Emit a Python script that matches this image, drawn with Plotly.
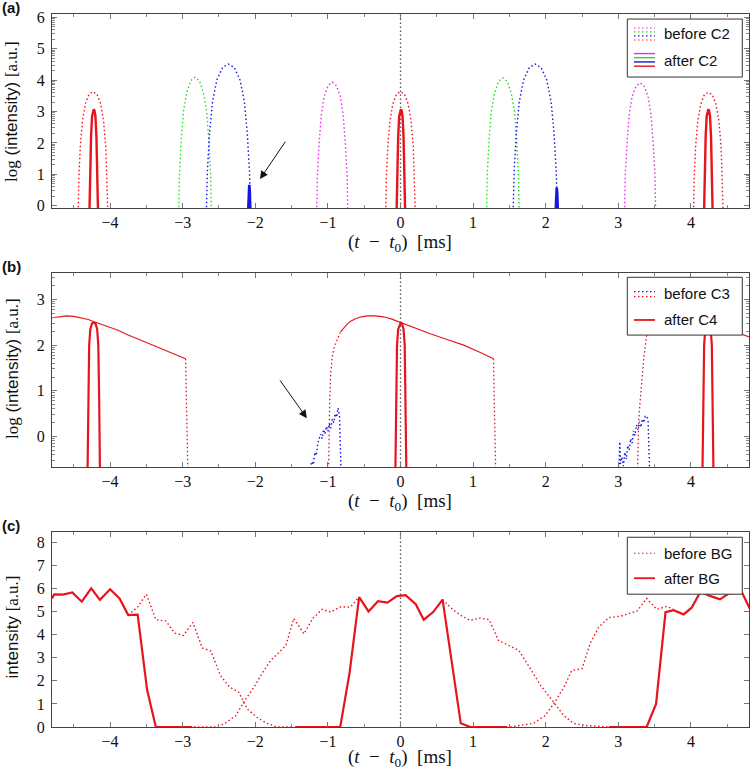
import numpy as np
import plotly.graph_objects as go

# ---------------- Panel (a) data ----------------
a_red_dot_x = [-4.44, -4.43, -4.41, -4.38, -4.34, -4.29, -4.235, -4.18, -4.13, -4.09, -4.06, -4.04, -4.03, None,
               -0.205, -0.195, -0.175, -0.145, -0.105, -0.055, 0.0, 0.055, 0.105, 0.145, 0.175, 0.195, 0.205, None,
               4.035, 4.045, 4.065, 4.095, 4.135, 4.185, 4.24, 4.295, 4.345, 4.385, 4.415, 4.435, 4.445]
a_red_dot_y = [-0.3, 0.9, 1.9, 2.7, 3.25, 3.55, 3.63, 3.55, 3.25, 2.7, 1.9, 0.9, -0.3, None,
               -0.3, 0.9, 1.9, 2.7, 3.25, 3.55, 3.63, 3.55, 3.25, 2.7, 1.9, 0.9, -0.3, None,
               -0.3, 0.9, 1.9, 2.7, 3.23, 3.53, 3.61, 3.53, 3.23, 2.7, 1.9, 0.9, -0.3]
a_green_dot_x = [-3.055, -3.045, -3.02, -2.99, -2.945, -2.89, -2.83, -2.77, -2.715, -2.67, -2.64, -2.615, -2.605, None,
                 1.185, 1.195, 1.22, 1.25, 1.295, 1.35, 1.41, 1.47, 1.525, 1.57, 1.60, 1.625, 1.635]
a_green_dot_y = [-0.3, 1.0, 2.1, 3.0, 3.6, 3.98, 4.09, 3.98, 3.6, 3.0, 2.1, 1.0, -0.3, None,
                 -0.3, 1.0, 2.1, 3.0, 3.58, 3.96, 4.07, 3.96, 3.58, 3.0, 2.1, 1.0, -0.3]
a_blue_dot_x = [-2.675, -2.66, -2.63, -2.59, -2.53, -2.45, -2.37, -2.29, -2.21, -2.15, -2.11, -2.08, -2.065, None,
                1.55, 1.565, 1.595, 1.635, 1.695, 1.775, 1.855, 1.935, 2.015, 2.075, 2.115, 2.145, 2.16]
a_blue_dot_y = [-0.3, 1.1, 2.3, 3.3, 4.0, 4.4, 4.51, 4.4, 4.0, 3.3, 2.3, 1.1, -0.3, None,
                -0.3, 1.1, 2.3, 3.3, 4.0, 4.4, 4.51, 4.4, 4.0, 3.3, 2.3, 1.1, -0.3]
a_mag_dot_x = [-1.155, -1.145, -1.12, -1.09, -1.05, -0.995, -0.94, -0.885, -0.83, -0.79, -0.76, -0.735, -0.725, None,
               3.085, 3.095, 3.12, 3.15, 3.19, 3.245, 3.30, 3.355, 3.41, 3.45, 3.48, 3.505, 3.515]
a_mag_dot_y = [-0.3, 0.95, 2.0, 2.9, 3.5, 3.83, 3.93, 3.83, 3.5, 2.9, 2.0, 0.95, -0.3, None,
               -0.3, 0.95, 2.0, 2.9, 3.48, 3.81, 3.91, 3.81, 3.48, 2.9, 2.0, 0.95, -0.3]
a_red_sol_x = [-4.285, -4.275, -4.262, -4.248, -4.235, -4.225, -4.215, -4.202, -4.188, -4.175, -4.165, None,
               -0.055, -0.045, -0.032, -0.018, -0.005, 0.005, 0.015, 0.028, 0.042, 0.055, 0.065, None,
               4.18, 4.19, 4.203, 4.217, 4.23, 4.24, 4.25, 4.263, 4.277, 4.29, 4.30]
a_red_sol_y = [-0.3, 1.0, 2.2, 2.85, 3.03, 3.07, 3.03, 2.85, 2.2, 1.0, -0.3, None,
               -0.3, 1.0, 2.2, 2.85, 3.03, 3.07, 3.03, 2.85, 2.2, 1.0, -0.3, None,
               -0.3, 1.0, 2.2, 2.85, 3.03, 3.07, 3.03, 2.85, 2.2, 1.0, -0.3]
a_blue_sol_x = [-2.10, -2.09, -2.083, -2.076, -2.066, None, 2.135, 2.145, 2.152, 2.159, 2.169]
a_blue_sol_y = [-0.3, 0.45, 0.67, 0.45, -0.3, None, -0.3, 0.40, 0.58, 0.40, -0.3]

# ---------------- Panel (b) data ----------------
b_red_line_x = [-4.80, -4.70, -4.60, -4.50, -4.40, -4.30, -4.23, -4.10, -3.90, -3.75, -3.60, -3.45, -3.30, -3.15, -2.96, None,
                -0.825, -0.78, -0.73, -0.68, -0.62, -0.54, -0.46, -0.35, -0.23, -0.12, -0.02, 0.15, 0.41, 0.65, 0.87, 1.10, 1.28, None,
                3.42, 3.50, 3.60, 3.75, 3.90, 4.05, 4.23, 4.40, 4.55, 4.72, 4.80]
b_red_line_y = [2.60, 2.62, 2.64, 2.63, 2.60, 2.56, 2.52, 2.45, 2.33, 2.22, 2.12, 2.02, 1.91, 1.81, 1.70, None,
                2.29, 2.38, 2.47, 2.53, 2.58, 2.62, 2.64, 2.64, 2.62, 2.57, 2.51, 2.40, 2.25, 2.12, 2.00, 1.84, 1.70, None,
                2.32, 2.42, 2.52, 2.60, 2.63, 2.60, 2.52, 2.42, 2.32, 2.23, 2.18]
b_red_dot_x = [-2.96, -2.955, -2.95, -2.94, -2.93, None,
               -0.99, -0.985, -0.975, -0.96, -0.94, -0.91, -0.88, -0.85, -0.825, None,
               1.28, 1.285, 1.29, 1.30, 1.31, None,
               3.265, 3.27, 3.28, 3.29, 3.31, 3.32, 3.35, 3.39, 3.42]
b_red_dot_y = [1.70, 1.2, 0.6, 0.0, -0.7, None,
               -0.7, 0.0, 0.8, 1.4, 1.75, 1.98, 2.10, 2.20, 2.29, None,
               1.70, 1.2, 0.6, 0.0, -0.7, None,
               -0.7, -0.2, 0.3, 0.57, 1.0, 1.23, 1.70, 2.21, 2.32]
b_blue_dot_x = [-1.25, -1.22, -1.20, -1.18, -1.16, -1.14, -1.12, -1.10, -1.08, -1.06, -1.04, -1.02, -1.00, -0.98,
                -0.96, -0.94, -0.92, -0.90, -0.88, -0.86, -0.84, -0.83, -0.82, None,
                3.01, 3.02, 3.03, 3.05, 3.07, 3.09, 3.11, 3.13, 3.15, 3.17, 3.19, 3.21, 3.23, 3.25, 3.27, 3.29,
                3.31, 3.33, 3.35, 3.37, 3.39, 3.41, 3.42, 3.43]
b_blue_dot_y = [-0.7, -0.55, -0.62, -0.35, -0.42, -0.15, -0.05, 0.05, -0.05, 0.15, 0.05, 0.22, 0.12, 0.28,
                0.18, 0.38, 0.30, 0.50, 0.42, 0.62, 0.45, -0.2, -0.7, None,
                -0.7, -0.12, -0.6, -0.45, -0.65, -0.35, -0.5, -0.2, -0.3, -0.05, -0.15, 0.12, 0.02, 0.25, 0.15, 0.32,
                0.20, 0.38, 0.30, 0.44, 0.45, 0.35, -0.2, -0.7]
b_red_sol_x = [-4.31, -4.30, -4.288, -4.272, -4.25, -4.225, -4.20, -4.178, -4.162, -4.15, -4.14, None,
               -0.07, -0.06, -0.048, -0.032, -0.01, 0.005, 0.02, 0.042, 0.058, 0.07, 0.08, None,
               4.16, 4.17, 4.182, 4.198, 4.22, 4.235, 4.25, 4.272, 4.288, 4.30, 4.31]
b_red_sol_y = [-0.7, 0.8, 2.0, 2.35, 2.47, 2.50, 2.47, 2.35, 2.0, 0.8, -0.7, None,
               -0.7, 0.8, 2.0, 2.35, 2.47, 2.50, 2.47, 2.35, 2.0, 0.8, -0.7, None,
               -0.7, 0.8, 2.0, 2.35, 2.47, 2.50, 2.47, 2.35, 2.0, 0.8, -0.7]

# ---------------- Panel (c) data ----------------
c_after_x = [-4.80, -4.77, -4.65, -4.52, -4.39, -4.26, -4.14, -4.00, -3.87, -3.75, -3.62, -3.49, -3.37, -2.87, None,
             -1.45, -0.83, -0.70, -0.57, -0.44, -0.31, -0.18, -0.05, 0.07, 0.21, 0.32, 0.45, 0.58, 0.83, 0.96, 1.47, None,
             2.87, 3.39, 3.52, 3.65, 3.76, 3.90, 4.01, 4.13, 4.26, 4.40, 4.52, 4.70, 4.81]
c_after_y = [5.57, 5.75, 5.74, 5.83, 5.43, 6.01, 5.51, 5.97, 5.57, 4.85, 4.87, 1.61, 0.0, 0.0, None,
             0.0, 0.0, 2.38, 5.63, 5.01, 5.45, 5.39, 5.67, 5.71, 5.32, 4.65, 4.98, 5.52, 0.16, 0.0, 0.0, None,
             0.0, 0.0, 1.00, 4.98, 5.06, 4.88, 5.17, 5.85, 5.68, 5.53, 5.78, 5.85, 5.13]
c_before_x = [-3.75, -3.62, -3.50, -3.37, -3.23, -3.11, -2.99, -2.86, -2.73, -2.61, -2.48, -2.36, -2.23, -2.11,
              -1.98, -1.84, -1.70, -1.50, None,
              -2.90, -2.55, -2.43, -2.27, -2.13, -2.02, -1.91, -1.79, -1.67, -1.58, -1.47, -1.33, -1.21, -1.08,
              -0.96, -0.83, -0.69, -0.57, None,
              0.58, 0.73, 0.85, 0.96, 1.10, 1.22, 1.35, 1.49, 1.63, 1.79, 1.93, 2.11, 2.25, 2.38, 2.57, 2.87, None,
              1.51, 1.65, 1.83, 1.99, 2.11, 2.25, 2.36, 2.50, 2.61, 2.73, 2.87, 3.03, 3.26, 3.39, 3.53, 3.67, 3.78]
c_before_y = [4.85, 5.20, 5.75, 4.65, 4.59, 4.07, 3.97, 4.53, 3.43, 3.29, 2.23, 1.75, 1.51, 0.78,
              0.42, 0.16, 0.0, 0.0, None,
              0.0, 0.0, 0.13, 0.49, 1.22, 1.72, 2.30, 2.88, 3.24, 3.53, 4.70, 4.04, 4.70, 5.10,
              4.98, 5.20, 5.20, 5.63, None,
              5.52, 5.06, 4.80, 4.62, 4.72, 4.65, 3.75, 3.53, 3.32, 2.52, 1.80, 1.07, 0.49, 0.16, 0.06, 0.0, None,
              0.0, 0.06, 0.16, 0.49, 1.00, 1.72, 2.45, 2.52, 3.61, 4.33, 4.74, 4.80, 5.03, 5.57, 5.10, 5.23, 5.06]

x_tick_vals = [-4, -3, -2, -1, 0, 1, 2, 3, 4]
legend_a = ["before C2", "after C2"]
legend_b = ["before C3", "after C4"]
legend_c = ["before BG", "after BG"]
panel_labels = ["(a)", "(b)", "(c)"]

RED = "#e8141c"
GREEN = "#22dd22"
BLUE = "#1515e0"
MAG = "#e030e0"
DOT = "1.5px,2.5px"
SERIF = "Liberation Serif"
SANS = "Liberation Sans"

fig = go.Figure()


def add(x, y, color, width, dash, ax):
    fig.add_trace(go.Scatter(x=x, y=y, mode="lines", line=dict(color=color, width=width, dash=dash),
                             xaxis="x" + ax, yaxis="y" + ax, showlegend=False, hoverinfo="skip",
                             connectgaps=False))


# panel a (axes x/y)
add(a_red_dot_x, a_red_dot_y, RED, 1.4, DOT, "")
add(a_green_dot_x, a_green_dot_y, GREEN, 1.4, DOT, "")
add(a_blue_dot_x, a_blue_dot_y, BLUE, 1.4, DOT, "")
add(a_mag_dot_x, a_mag_dot_y, MAG, 1.4, DOT, "")
add(a_red_sol_x, a_red_sol_y, RED, 2.4, "solid", "")
add(a_blue_sol_x, a_blue_sol_y, BLUE, 2.6, "solid", "")
# panel b
add(b_red_line_x, b_red_line_y, RED, 1.1, "solid", "2")
add(b_red_dot_x, b_red_dot_y, RED, 1.3, DOT, "2")
add(b_blue_dot_x, b_blue_dot_y, BLUE, 1.4, DOT, "2")
add(b_red_sol_x, b_red_sol_y, RED, 2.2, "solid", "2")
# panel c
add(c_before_x, c_before_y, RED, 1.4, DOT, "3")
add(c_after_x, c_after_y, RED, 2.2, "solid", "3")

# log-style minor ticks
log_minor = [n + np.log10(k) for n in range(-1, 7) for k in range(2, 10)]

tickfont = dict(family=SERIF, size=16, color="#111")


def xaxis(domain_anchor):
    return dict(range=[-4.8, 4.8], domain=[0, 1], anchor=domain_anchor, showline=True, mirror="allticks",
                linecolor="#444", linewidth=1, ticks="inside", ticklen=5, tickcolor="#777",
                tickmode="array", tickvals=x_tick_vals,
                minor=dict(tickmode="linear", tick0=0.5, dtick=1, ticks="inside", ticklen=3, tickcolor="#888"),
                showgrid=False, zeroline=False, tickfont=tickfont, ticklabelstandoff=0)


def yaxis(rng, dom, anchor, minor_vals, ticks):
    d = dict(range=rng, domain=dom, anchor=anchor, showline=True, mirror="allticks", linecolor="#444",
             linewidth=1, ticks="inside", ticklen=5, tickcolor="#777", tickmode="array", tickvals=ticks,
             showgrid=False, zeroline=False, tickfont=tickfont, ticklabelstandoff=3)
    if minor_vals is not None:
        d["minor"] = dict(tickmode="array", tickvals=minor_vals, ticks="inside", ticklen=3, tickcolor="#888")
    return d


fig.update_layout(
    width=751, height=770, margin=dict(l=52, r=2, t=14, b=43),
    paper_bgcolor="white", plot_bgcolor="white",
    xaxis=xaxis("y"), xaxis2=xaxis("y2"), xaxis3=xaxis("y3"),
    yaxis=yaxis([-0.07, 6.1], [0.7279, 1.0], "x", [v for v in log_minor if -0.07 < v < 6.1], [0, 1, 2, 3, 4, 5, 6]),
    yaxis2=yaxis([-0.67, 3.58], [0.3647, 0.6367], "x2", [v for v in log_minor if -0.67 < v < 3.58], [0, 1, 2, 3]),
    yaxis3=yaxis([0, 8.45], [0, 0.2735], "x3", None, [0, 1, 2, 3, 4, 5, 6, 7, 8]),
)

shapes = []
annotations = []

# dotted vertical line at t = t0 in each panel
for ax in ["", "2", "3"]:
    shapes.append(dict(type="line", xref="x" + ax, yref=("y" + ax) + " domain", x0=0, x1=0, y0=0, y1=1,
                       line=dict(color="#555", width=1.3, dash="1.5px,2.5px"), layer="below"))


def legend_box(ax, y0, y1, entries):
    xr = "x" + ax + " domain"
    yr = "y" + ax + " domain"
    shapes.append(dict(type="rect", xref=xr, yref=yr, x0=0.8254, x1=0.9904, y0=y0, y1=y1,
                       fillcolor="white", line=dict(color="#333", width=1)))
    for text, ty, lines in entries:
        for (ly, color, width, dash) in lines:
            shapes.append(dict(type="line", xref=xr, yref=yr, x0=0.835, x1=0.8651, y0=ly, y1=ly,
                               line=dict(color=color, width=width, dash=dash)))
        annotations.append(dict(text=text, xref=xr, yref=yr, x=0.8747, y=ty, xanchor="left", yanchor="middle",
                                showarrow=False, font=dict(family=SANS, size=15, color="#111")))


legend_box("", 0.675, 0.974, [
    (legend_a[0], 0.897, [(0.928, MAG, 1.1, DOT), (0.908, GREEN, 1.1, DOT), (0.887, BLUE, 1.1, DOT), (0.866, RED, 1.1, DOT)]),
    (legend_a[1], 0.758, [(0.796, MAG, 1.4, "solid"), (0.775, GREEN, 1.4, "solid"), (0.753, BLUE, 1.4, "solid"), (0.731, RED, 1.4, "solid")]),
])
legend_box("2", 0.680, 0.978, [
    (legend_b[0], 0.892, [(0.904, BLUE, 1.2, DOT), (0.878, RED, 1.2, DOT)]),
    (legend_b[1], 0.758, [(0.758, RED, 1.8, "solid")]),
])
legend_box("3", 0.681, 0.973, [
    (legend_c[0], 0.891, [(0.891, RED, 1.2, DOT)]),
    (legend_c[1], 0.763, [(0.763, RED, 1.8, "solid")]),
])

# arrows
annotations.append(dict(x=-1.935, y=0.85, ax=-1.545, ay=2.18, xref="x", yref="y", axref="x", ayref="y",
                        text=" ", showarrow=True, arrowhead=2, arrowsize=1.6, arrowwidth=1, arrowcolor="#111"))
annotations.append(dict(x=-1.29, y=0.40, ax=-1.70, ay=1.32, xref="x2", yref="y2", axref="x2", ayref="y2",
                        text=" ", showarrow=True, arrowhead=2, arrowsize=1.6, arrowwidth=1, arrowcolor="#111"))

# axis titles
xt = "(<i>t</i>  −  <i>t</i><sub>0</sub>)  [ms]"
for yp in [0.6788, 0.3156, -0.0435]:
    annotations.append(dict(text=xt, xref="paper", yref="paper", x=0.4993, y=yp, xanchor="center",
                            yanchor="middle", showarrow=False, font=dict(family=SERIF, size=19, color="#111")))
ylog = ('<span style="font-family:Liberation Serif">log</span> (intensity) '
        '<span style="font-family:Liberation Serif">[a.u.]</span>')
yint = 'intensity <span style="font-family:Liberation Serif">[a.u.]</span>'
for txt, yp in [(ylog, 0.864), (ylog, 0.5035), (yint, 0.141)]:
    annotations.append(dict(text=txt, xref="paper", yref="paper", x=-0.0574, y=yp, xanchor="center",
                            yanchor="middle", textangle=-90, showarrow=False,
                            font=dict(family=SANS, size=17, color="#111")))
# panel labels
for lab, yp in zip(panel_labels, [1.0098, 0.6456, 0.2833]):
    annotations.append(dict(text="<b>" + lab + "</b>", xref="paper", yref="paper", x=-0.0746, y=yp,
                            xanchor="left", yanchor="middle", showarrow=False,
                            font=dict(family=SANS, size=15, color="#111")))

fig.update_layout(shapes=shapes, annotations=annotations)
fig.write_html("out.html", config={"displayModeBar": False},
               post_script="document.body.style.margin='0';document.body.style.overflow='hidden';")
